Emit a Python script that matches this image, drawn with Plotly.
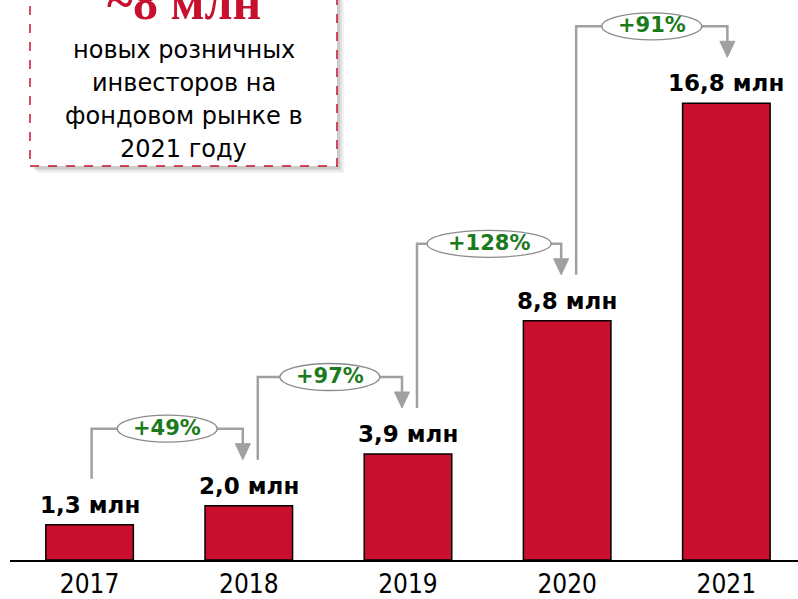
import plotly.graph_objects as go

# ---- data -------------------------------------------------------------
years = ["2017", "2018", "2019", "2020", "2021"]
investors_mln = [1.3, 2.0, 3.9, 8.8, 16.8]
growth_labels = ["+49%", "+97%", "+128%", "+91%"]
headline = "~8 млн"
caption_lines = ["новых розничных", "инвесторов на", "фондовом рынке в", "2021 году"]

# ---- styling / geometry ----------------------------------------------
W, H = 798, 599
ML, MR, MT, MB = 10, 0, 0, 39
PW, PH = W - ML - MR, H - MT - MB
X_RANGE = (-0.5, 4.45)
Y_RANGE = (0, 20.6)
UX = PW / (X_RANGE[1] - X_RANGE[0])   # px per category step
UY = PH / (Y_RANGE[1] - Y_RANGE[0])   # px per million

RED = "#C8102E"
GREY = "#A0A0A0"
GREEN = "#1B7A1B"
SANS = "DejaVu Sans, Verdana, sans-serif"
SANS_COND = "DejaVu Sans Condensed, DejaVu Sans, sans-serif"
SERIF = "Liberation Serif, Times New Roman, serif"


def dx(px):
    return px / UX


def dy(px):
    return px / UY


def px_x(px):
    return (px - ML) / PW


def px_y(py):
    return (MT + PH - py) / PH


xs = list(range(len(years)))
value_labels = [f"{v:.1f}".replace(".", ",") + " млн" for v in investors_mln]

fig = go.Figure()
fig.add_trace(go.Bar(
    x=xs, y=investors_mln, width=0.55,
    marker=dict(color=RED, line=dict(color="black", width=1.5)),
    hoverinfo="skip",
))

shapes = []
annotations = []

# value labels above bars
for x, v, lab in zip(xs, investors_mln, value_labels):
    annotations.append(dict(
        x=x, y=v, xref="x", yref="y", text=lab, showarrow=False,
        xanchor="center", yanchor="bottom", yshift=5,
        font=dict(family=SANS, size=23, color="black", weight="bold"),
    ))

# growth connectors between consecutive bars
for i, lab in enumerate(growth_labels):
    v0, v1 = investors_mln[i], investors_mln[i + 1]
    xl = xs[i] + dx(2 if i == 0 else 9)
    xr = xs[i + 1] + dx(1 if i + 1 == len(xs) - 1 else -6)
    y_start = v0 + dy(46)
    y_tip = v1 + dy(46)
    y_level = v1 + dy(77)
    y_head = y_tip + dy(16)
    shapes.append(dict(
        type="path", xref="x", yref="y",
        path=f"M {xl},{y_start} L {xl},{y_level} L {xr},{y_level} L {xr},{y_head}",
        line=dict(color=GREY, width=2.5),
    ))
    shapes.append(dict(
        type="path", xref="x", yref="y",
        path=f"M {xr - dx(7.5)},{y_head} L {xr + dx(7.5)},{y_head} L {xr},{y_tip} Z",
        fillcolor=GREY, line=dict(color=GREY, width=1),
    ))
    cx = (xl + xr) / 2
    half_w = dx((24 * len(lab) + 4) / 2)
    shapes.append(dict(
        type="circle", xref="x", yref="y",
        x0=cx - half_w, x1=cx + half_w,
        y0=y_level - dy(13.5), y1=y_level + dy(13.5),
        fillcolor="white", line=dict(color="#8C8C8C", width=1.3),
    ))
    annotations.append(dict(
        x=cx, y=y_level, xref="x", yref="y", text=lab, showarrow=False,
        xanchor="center", yanchor="middle", yshift=1,
        font=dict(family=SANS, size=21, color=GREEN, weight="bold"),
    ))

# callout box with soft drop shadow
bx0, bx1, by0, by1 = 30, 337, -12, 166
for off, alpha in [(7, 0.05), (5, 0.07), (3, 0.09)]:
    shapes.append(dict(
        type="rect", xref="paper", yref="paper",
        x0=px_x(bx0 + off), x1=px_x(bx1 + off),
        y0=px_y(by1 + off), y1=px_y(by0 + off),
        fillcolor=f"rgba(0,0,0,{alpha})", line=dict(width=0), layer="above",
    ))
shapes.append(dict(
    type="rect", xref="paper", yref="paper",
    x0=px_x(bx0), x1=px_x(bx1), y0=px_y(by1), y1=px_y(by0),
    fillcolor="white", line=dict(color=RED, width=1.5, dash="dash"), layer="above",
))

bcx = px_x((bx0 + bx1) / 2)
annotations.append(dict(
    x=bcx, y=px_y(32), xref="paper", yref="paper", text=headline,
    showarrow=False, xanchor="center", yanchor="bottom",
    font=dict(family=SERIF, size=50, color=RED, weight="bold"),
))
for line, cy in zip(caption_lines, [50, 83, 116, 149]):
    annotations.append(dict(
        x=bcx, y=px_y(cy), xref="paper", yref="paper", text=line,
        showarrow=False, xanchor="center", yanchor="middle",
        font=dict(family=SANS, size=24, color="black"),
    ))

fig.update_layout(
    width=W, height=H,
    margin=dict(l=ML, r=MR, t=MT, b=MB, pad=0),
    paper_bgcolor="white", plot_bgcolor="white",
    showlegend=False,
    shapes=shapes, annotations=annotations,
    xaxis=dict(
        range=list(X_RANGE), tickmode="array", tickvals=xs, ticktext=years,
        showline=True, linecolor="black", linewidth=1.5,
        ticks="", showgrid=False, zeroline=False, fixedrange=True,
        automargin=False, ticklabelstandoff=0,
        tickfont=dict(family=SANS_COND, size=26, color="black"),
    ),
    yaxis=dict(range=list(Y_RANGE), visible=False, fixedrange=True,
               automargin=False),
)

fig.write_html("out.html")
